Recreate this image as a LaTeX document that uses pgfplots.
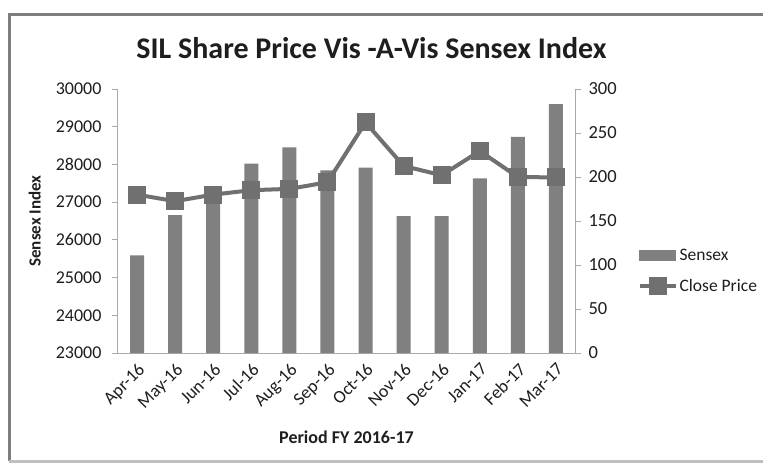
\documentclass[border=0pt]{standalone}
\usepackage{fontspec}
\setmainfont{Carlito}
\usepackage{pgfplots}
\pgfplotsset{compat=1.18}
\definecolor{barc}{RGB}{128,128,128}
\definecolor{linec}{RGB}{112,112,112}
\definecolor{axc}{RGB}{170,170,170}
\definecolor{framec}{RGB}{125,125,125}
\definecolor{txt}{RGB}{30,30,30}
\begin{document}
\begin{tikzpicture}[x=1pt,y=1pt]
\useasboundingbox (0,0) rectangle (763,464);
\fill[white] (0,0) rectangle (763,464);
\draw[framec, line width=3pt] (764,449) -- (9,449) -- (9,3);
\draw[black!25, line width=3pt] (9,3) -- (764,3);
\node[font=\fontsize{30}{36}\selectfont\bfseries, text=txt] at (371.5,416) {SIL Share Price Vis -A-Vis Sensex Index};

\begin{axis}[
  at={(118pt,111pt)}, anchor=south west, scale only axis,
  width=457pt, height=264pt,
  xmin=-0.5, xmax=11.5, ymin=23000, ymax=30000,
  ytick={23000,24000,...,30000},
  scaled y ticks=false,
  xtick={0,...,11},
  xticklabels={Apr-16,May-16,Jun-16,Jul-16,Aug-16,Sep-16,Oct-16,Nov-16,Dec-16,Jan-17,Feb-17,Mar-17},
  x tick label style={rotate=45, anchor=north east, font=\fontsize{18}{20}\selectfont, text=txt, inner sep=2pt},
  y tick label style={font=\fontsize{18}{21}\selectfont, text=txt, xshift=-7pt},
  /pgf/number format/assume math mode=true,
  /pgf/number format/1000 sep={},
  axis x line*=bottom, axis y line*=left,
  axis line style={axc, line width=1pt, -},
  tick align=outside, major tick length=6pt,
  major tick style={axc, line width=1pt},
  major x tick style={draw=none},
  ylabel={\bfseries Sensex Index},
  ylabel style={font=\fontsize{17}{20}\selectfont, text=txt, at={(axis description cs:-0.182,0.5)}, anchor=center},
  xlabel={\bfseries Period FY 2016-17},
  xlabel style={font=\fontsize{18}{21}\selectfont, text=txt, at={(axis description cs:0.5,-0.318)}, anchor=center},
]
\addplot[ybar, bar width=14pt, fill=barc, draw=none] coordinates {
(0,25590) (1,26655) (2,26985) (3,28020) (4,28450) (5,27845)
(6,27915) (7,26630) (8,26630) (9,27630) (10,28730) (11,29600)};
\end{axis}

\begin{axis}[
  at={(118pt,111pt)}, anchor=south west, scale only axis,
  width=457pt, height=264pt,
  xmin=-0.5, xmax=11.5, ymin=0, ymax=300,
  ytick={0,50,...,300},
  axis x line=none, axis y line*=right,
  axis line style={axc, line width=1pt, -},
  tick align=outside, major tick length=6pt,
  major tick style={axc, line width=1pt},
  y tick label style={font=\fontsize{18.5}{21}\selectfont, text=txt, xshift=4pt},
  /pgf/number format/assume math mode=true,
  legend style={draw=none, fill=none, at={(1.13,0.31)}, anchor=west,
    font=\fontsize{17.5}{20}\selectfont, text=txt, row sep=13pt},
  legend cell align=left,
  clip=false,
]
\addlegendimage{legend image code/.code={\fill[barc] (0pt,-5pt) rectangle (36pt,5pt);}}
\addlegendentry{Sensex}
\addplot[linec, line width=4pt, mark=square*, mark size=7pt, mark options={fill=linec, draw=none},
  legend image code/.code={\draw[linec, line width=4pt] (0pt,0pt) -- (36pt,0pt); \fill[linec] (11pt,-7pt) rectangle (25pt,7pt);}]
 coordinates {
(0,180) (1,172.5) (2,180) (3,185) (4,186.5) (5,194)
(6,262) (7,212.5) (8,202) (9,229.5) (10,200) (11,199.5)};
\addlegendentry{Close Price}
\end{axis}
\end{tikzpicture}
\end{document}
